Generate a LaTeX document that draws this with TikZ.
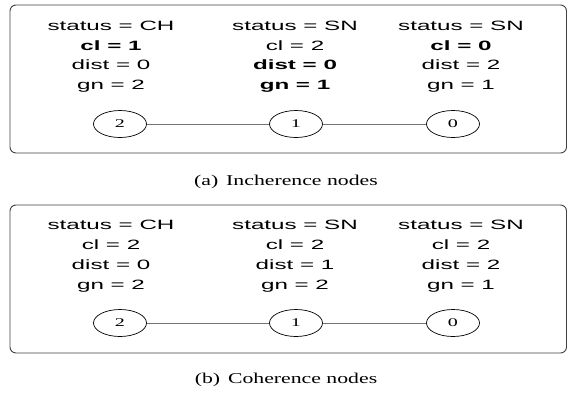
\documentclass[tikz,border=0pt]{standalone}
\usepackage{fontspec}
\usetikzlibrary{shapes.geometric}
\newfontfamily\labelfont[FakeStretch=1.79]{Liberation Sans}
\newfontfamily\capfont[FakeStretch=1.45]{Liberation Serif}
\newfontfamily\numfont[FakeStretch=1.7]{Liberation Serif}
\begin{document}
\begin{tikzpicture}[x=1pt,y=-1pt,
  panel/.style={draw=black!75,line width=0.9pt,rounded corners=6pt},
  info/.style={anchor=base,inner sep=0pt,font=\labelfont\fontsize{13.5}{16}\selectfont},
  vertex/.style={draw,ellipse,line width=0.7pt,minimum width=53pt,minimum height=27pt,inner sep=0pt,font=\numfont\fontsize{11.8}{14}\selectfont},
  link/.style={draw=black!55,line width=1pt},
  caption/.style={inner sep=0pt,font=\capfont\fontsize{15}{18}\selectfont}]
\useasboundingbox (0,0) rectangle (568,392);

% ---------- (a) ----------
\draw[panel] (10,5) rectangle (566.5,153);
\node[info] (a1s) at (111,30.5) {status = CH};
\node[info] (a1c) at (111,50.5) {\bfseries cl = 1};
\node[info] (a1d) at (111,69.5) {dist = 0};
\node[info] (a1g) at (111,89) {gn = 2};
\node[info] (a2s) at (295,30.5) {status = SN};
\node[info] (a2c) at (295,50.5) {cl = 2};
\node[info] (a2d) at (295,69.5) {\bfseries dist = 0};
\node[info] (a2g) at (295,89) {\bfseries gn = 1};
\node[info] (a3s) at (461,30.5) {status = SN};
\node[info] (a3c) at (461,50.5) {\bfseries cl = 0};
\node[info] (a3d) at (461,69.5) {dist = 2};
\node[info] (a3g) at (461,89) {gn = 1};
\node[vertex] (av2) at (120,124) {2};
\node[vertex] (av1) at (296,124) {1};
\node[vertex] (av0) at (453,124) {0};
\draw[link] (av2) -- (av1);
\draw[link] (av1) -- (av0);
\node[caption] (capa) at (286,182) {(a)\, Incherence nodes};

% ---------- (b) ----------
\draw[panel] (10,205) rectangle (566.5,353);
\node[info] (b1s) at (111,229.5) {status = CH};
\node[info] (b1c) at (111,249.5) {cl = 2};
\node[info] (b1d) at (111,269.5) {dist = 0};
\node[info] (b1g) at (111,289) {gn = 2};
\node[info] (b2s) at (295,229.5) {status = SN};
\node[info] (b2c) at (295,249.5) {cl = 2};
\node[info] (b2d) at (295,269.5) {dist = 1};
\node[info] (b2g) at (295,289) {gn = 2};
\node[info] (b3s) at (461,229.5) {status = SN};
\node[info] (b3c) at (461,249.5) {cl = 2};
\node[info] (b3d) at (461,269.5) {dist = 2};
\node[info] (b3g) at (461,289) {gn = 1};
\node[vertex] (bv2) at (120,323) {2};
\node[vertex] (bv1) at (296,323) {1};
\node[vertex] (bv0) at (453,323) {0};
\draw[link] (bv2) -- (bv1);
\draw[link] (bv1) -- (bv0);
\node[caption] (capb) at (286,380) {(b)\, Coherence nodes};
\end{tikzpicture}
\end{document}
